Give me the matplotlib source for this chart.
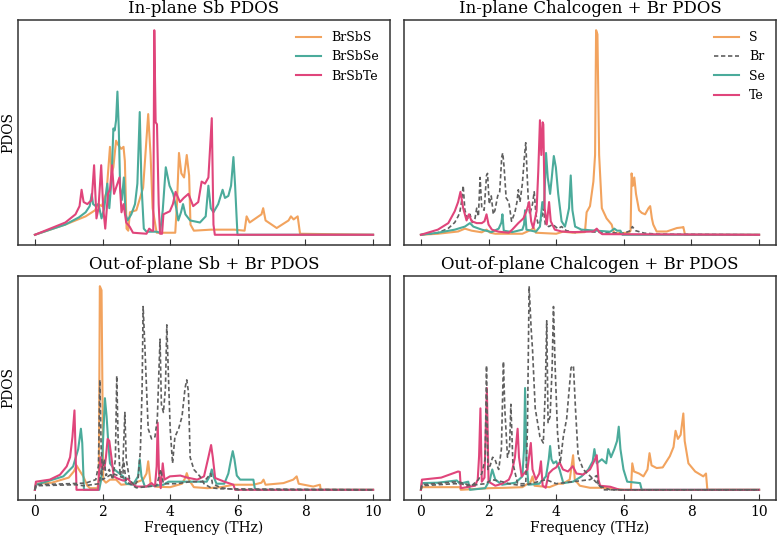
"""Phonon PDOS of BrSbX (X = S, Se, Te): in-plane / out-of-plane projections."""

import matplotlib
matplotlib.use("Agg")
import matplotlib.pyplot as plt

plt.rcParams["font.family"] = ["DejaVu Serif"]

C_S = "#F2A35E"
C_SE = "#4BAB9B"
C_TE = "#E0457B"
C_BR = "#5F5F5F"

# ---- in-plane Sb (normalised to panel max) ----
ip_sb_s_f = [0, 0.9, 1.5, 1.78, 1.87, 1.98, 2.12, 2.22, 2.27, 2.32, 2.40, 2.46, 2.55, 2.62, 2.66,
             2.71, 2.76, 2.81, 3.0, 3.2, 3.35, 3.42, 3.48, 3.6, 4.15, 4.2, 4.26, 4.33, 4.41, 4.49,
             4.56, 4.6, 4.7, 5.2, 5.9, 6.2, 6.26, 6.35, 6.7, 6.75, 6.82, 7.15, 7.5, 7.57, 7.65,
             7.77, 7.84, 10]
ip_sb_s = [0, 0.05, 0.09, 0.12, 0.15, 0.14, 0.21, 0.43, 0.30, 0.33, 0.46, 0.44, 0.42, 0.43, 0.36,
           0.03, 0.02, 0.11, 0.12, 0.23, 0.59, 0.39, 0.13, 0.01, 0.01, 0.15, 0.40, 0.30, 0.28, 0.39,
           0.29, 0.05, 0.02, 0.025, 0.025, 0.02, 0.09, 0.06, 0.10, 0.13, 0.07, 0.033, 0.07, 0.09, 0.075,
           0.09, 0.005, 0]

ip_sb_se_f = [0, 0.9, 1.3, 1.5, 1.62, 1.68, 1.72, 1.8, 1.88, 1.97, 2.05, 2.14, 2.2, 2.27, 2.32,
              2.36, 2.40, 2.44, 2.48, 2.52, 2.57, 2.63, 2.68, 2.74, 2.85, 2.96, 3.03, 3.1, 3.15,
              3.22, 3.3, 3.6, 3.7, 3.78, 3.87, 3.98, 4.09, 4.18, 4.24, 4.32, 4.38, 4.45, 4.59, 4.88,
              5.05, 5.13, 5.2, 5.28, 5.42, 5.55, 5.62, 5.72, 5.8, 5.87, 5.92, 5.96, 5.99, 10]
ip_sb_se = [0, 0.05, 0.085, 0.11, 0.14, 0.20, 0.15, 0.14, 0.15, 0.08, 0.13, 0.25, 0.13, 0.28, 0.52,
            0.51, 0.56, 0.70, 0.52, 0.23, 0.17, 0.28, 0.10, 0.07, 0.10, 0.15, 0.25, 0.60, 0.25,
            0.03, 0.015, 0.015, 0.01, 0.12, 0.33, 0.24, 0.20, 0.13, 0.07, 0.11, 0.15, 0.10, 0.07, 0.06,
            0.09, 0.24, 0.13, 0.11, 0.15, 0.22, 0.18, 0.19, 0.24, 0.38, 0.24, 0.10, 0.0, 0]

ip_sb_te_f = [0, 0.9, 1.2, 1.32, 1.38, 1.44, 1.55, 1.68, 1.75, 1.82, 1.88, 1.96, 2.02, 2.08, 2.16,
              2.22, 2.28, 2.34, 2.42, 2.5, 2.56, 2.62, 2.7, 2.8, 2.9, 3.3, 3.38, 3.45, 3.5, 3.53,
              3.57, 3.61, 3.66, 3.7, 3.76, 3.8, 3.99, 4.08, 4.16, 4.29, 4.4, 4.54, 4.68, 4.83, 4.93,
              5.03, 5.13, 5.23, 5.28, 5.32, 10]
ip_sb_te = [0, 0.06, 0.10, 0.14, 0.22, 0.16, 0.15, 0.17, 0.34, 0.08, 0.13, 0.34, 0.13, 0.03, 0.20,
            0.22, 0.34, 0.20, 0.24, 0.28, 0.11, 0.15, 0.06, 0.04, 0.01, 0.005, 0.03, 0.02, 0.02, 1.0,
            0.55, 0.54, 0.15, 0.005, 0.005, 0.10, 0.115, 0.15, 0.21, 0.16, 0.18, 0.20, 0.14, 0.16, 0.26,
            0.25, 0.28, 0.57, 0.05, 0.0, 0]

# ---- in-plane chalcogen + Br ----
ip_s_f = [0, 0.5, 1.1, 1.3, 1.5, 1.8, 1.94, 2.05, 2.2, 3.0, 3.27, 3.33, 3.4, 4.0, 4.2, 4.5, 4.85,
          4.9, 5.0, 5.1, 5.15, 5.18, 5.22, 5.27, 5.35, 5.49, 5.64, 5.7, 5.74, 6.15, 6.2, 6.23, 6.27,
          6.31, 6.36, 6.45, 6.53, 6.63, 6.73, 6.78, 6.83, 6.87, 6.97, 7.27, 7.57, 7.72, 7.76, 7.81, 10]
ip_s = [0, 0.005, 0.016, 0.03, 0.02, 0.012, 0.025, 0.01, 0.005, 0.005, 0.025, 0.036, 0.01, 0.005,
        0.015, 0.01, 0.013, 0.11, 0.14, 0.26, 0.39, 1.0, 0.98, 0.39, 0.13, 0.08, 0.05, 0.015, 0.007,
        0.01, 0.02, 0.30, 0.24, 0.28, 0.2, 0.12, 0.107, 0.10, 0.13, 0.14, 0.08, 0.05, 0.016, 0.016,
        0.033, 0.036, 0.038, 0.0, 0]

ip_br_f = [0, 0.5, 0.8, 1.0, 1.1, 1.15, 1.2, 1.25, 1.3, 1.38, 1.45, 1.52, 1.6, 1.65, 1.7, 1.75,
           1.8, 1.87, 1.94, 1.97, 2.02, 2.08, 2.14, 2.19, 2.27, 2.33, 2.39, 2.42, 2.46, 2.52, 2.6,
           2.68, 2.78, 2.84, 2.88, 2.93, 3.0, 3.06, 3.1, 3.14, 3.18, 3.22, 3.3, 3.35, 3.4, 3.47,
           3.52, 3.58, 3.62, 3.68, 3.78, 3.9, 4.05, 4.16, 4.3, 4.6, 4.9, 5.0, 5.5, 6.0, 6.2, 6.25,
           6.35, 6.6, 7.0, 10]
ip_br = [0, 0.01, 0.03, 0.06, 0.09, 0.11, 0.16, 0.24, 0.12, 0.08, 0.10, 0.06, 0.08, 0.13, 0.09,
         0.28, 0.13, 0.12, 0.29, 0.30, 0.15, 0.19, 0.10, 0.12, 0.19, 0.21, 0.38, 0.40, 0.33, 0.18,
         0.16, 0.066, 0.11, 0.16, 0.22, 0.16, 0.25, 0.38, 0.45, 0.3, 0.15, 0.10, 0.15, 0.21, 0.10,
         0.05, 0.06, 0.09, 0.13, 0.05, 0.04, 0.05, 0.03, 0.04, 0.02, 0.01, 0.025, 0.015, 0.01, 0.008,
         0.02, 0.04, 0.02, 0.008, 0.003, 0]

ip_se_f = [0, 0.5, 1.0, 1.3, 1.45, 1.55, 1.8, 2.09, 2.3, 2.38, 2.41, 2.45, 2.7, 3.0, 3.05, 3.08,
           3.12, 3.4, 3.52, 3.59, 3.64, 3.7, 3.75, 3.82, 3.87, 3.93, 3.99, 4.06, 4.16, 4.26, 4.31,
           4.38, 4.43, 4.48, 4.56, 4.75, 5.2, 5.6, 5.72, 5.8, 5.9, 5.96, 10]
ip_se = [0, 0.01, 0.025, 0.04, 0.057, 0.04, 0.025, 0.013, 0.03, 0.06, 0.10, 0.02, 0.013, 0.025,
         0.05, 0.12, 0.025, 0.015, 0.04, 0.16, 0.13, 0.40, 0.28, 0.2, 0.28, 0.385, 0.33, 0.2, 0.066,
         0.04, 0.074, 0.13, 0.29, 0.12, 0.04, 0.025, 0.02, 0.015, 0.03, 0.02, 0.02, 0.0, 0]

ip_te_f = [0, 0.5, 0.81, 1.0, 1.1, 1.17, 1.25, 1.35, 1.42, 1.5, 1.65, 1.8, 1.88, 1.94, 2.0, 2.1,
           2.3, 2.6, 2.7, 2.88, 3.03, 3.12, 3.2, 3.26, 3.32, 3.42, 3.47, 3.52, 3.56, 3.6, 3.62,
           3.66, 3.72, 3.79, 3.84, 3.96, 4.16, 4.5, 5.1, 5.2, 5.28, 5.36, 10]
ip_te = [0, 0.025, 0.057, 0.115, 0.16, 0.21, 0.13, 0.07, 0.10, 0.066, 0.057, 0.057, 0.066, 0.10,
         0.05, 0.025, 0.015, 0.01, 0.025, 0.057, 0.08, 0.115, 0.16, 0.066, 0.033, 0.115, 0.31, 0.56,
         0.39, 0.55, 0.54, 0.13, 0.05, 0.16, 0.066, 0.025, 0.016, 0.013, 0.016, 0.03, 0.013, 0.003, 0]

# ---- out-of-plane Sb + Br ----
op_sb_s_f = [0, 0.03, 0.5, 1.0, 1.15, 1.23, 1.3, 1.43, 1.55, 1.63, 1.85, 1.89, 1.92, 1.97, 2.02,
             2.1, 2.22, 2.4, 2.55, 2.9, 3.2, 3.3, 3.35, 3.42, 3.6, 4.0, 4.35, 4.45, 4.49, 4.55, 4.7,
             5.1, 5.5, 5.87, 6.46, 6.7, 6.76, 6.82, 7.35, 7.64, 7.74, 7.8, 8.23, 8.43, 8.45, 10]
op_sb_s = [0, 0.03, 0.035, 0.06, 0.09, 0.12, 0.10, 0.066, 0.02, 0.008, 0.008, 0.05, 1.0, 0.98, 0.05,
           0.035, 0.05, 0.05, 0.025, 0.03, 0.05, 0.08, 0.14, 0.03, 0.015, 0.013, 0.03, 0.06, 0.082,
           0.05, 0.013, 0.008, 0.013, 0.025, 0.025, 0.035, 0.05, 0.025, 0.033, 0.05, 0.066, 0.03,
           0.016, 0.025, 0.0, 0]

op_sb_se_f = [0, 0.03, 0.84, 1.13, 1.28, 1.36, 1.4, 1.45, 1.9, 1.96, 2.02, 2.07, 2.12, 2.17, 2.22,
              2.35, 2.5, 2.61, 2.7, 2.9, 3.05, 3.1, 3.15, 3.25, 3.8, 3.95, 4.39, 5.08, 5.18, 5.23,
              5.28, 5.37, 5.6, 5.72, 5.8, 5.85, 5.9, 5.97, 6.07, 6.46, 6.51, 10]
op_sb_se = [0, 0.025, 0.066, 0.115, 0.2, 0.30, 0.23, 0.0, 0.0, 0.05, 0.26, 0.45, 0.36, 0.23, 0.13,
            0.10, 0.08, 0.066, 0.03, 0.025, 0.066, 0.15, 0.066, 0.016, 0.025, 0.04, 0.04, 0.04, 0.07,
            0.1, 0.066, 0.03, 0.03, 0.08, 0.15, 0.19, 0.15, 0.07, 0.05, 0.05, 0.0, 0]

op_sb_te_f = [0, 0.03, 0.44, 0.74, 0.94, 1.04, 1.11, 1.17, 1.2, 1.23, 1.87, 1.9, 1.94, 1.98, 2.05,
              2.1, 2.15, 2.2, 2.27, 2.33, 2.45, 2.62, 2.75, 2.85, 3.0, 3.3, 3.45, 3.55, 3.6, 3.63,
              3.67, 3.72, 3.78, 3.83, 3.99, 4.3, 4.5, 4.8, 5.0, 5.13, 5.21, 5.26, 5.33, 5.6, 5.87,
              5.92, 10]
op_sb_te = [0, 0.04, 0.05, 0.074, 0.115, 0.16, 0.26, 0.39, 0.2, 0.0, 0.0, 0.09, 0.16, 0.11, 0.10,
            0.16, 0.25, 0.24, 0.15, 0.066, 0.055, 0.045, 0.055, 0.033, 0.016, 0.016, 0.033, 0.016,
            0.115, 0.33, 0.08, 0.008, 0.13, 0.05, 0.066, 0.07, 0.06, 0.05, 0.066, 0.16, 0.22, 0.16,
            0.058, 0.04, 0.025, 0.0, 0]

op_br_a_f = [0, 0.03, 1.0, 1.5, 1.8, 1.88, 1.92, 1.96, 2.0, 2.05, 2.1, 2.2, 2.3, 2.38, 2.42, 2.46,
             2.52, 2.6, 2.66, 2.7, 2.8, 2.95, 3.05, 3.12, 3.17, 3.2, 3.25, 3.3, 3.35, 3.45, 3.55,
             3.62, 3.67, 3.7, 3.74, 3.8, 3.86, 3.9, 3.95, 4.0, 4.07, 4.14, 4.25, 4.35, 4.44, 4.49,
             4.54, 4.59, 4.7, 4.88, 5.0, 5.2, 5.5, 10]
op_br_a = [0, 0.025, 0.03, 0.033, 0.05, 0.12, 0.54, 0.2, 0.1, 0.15, 0.07, 0.1, 0.05, 0.15, 0.56,
           0.25, 0.07, 0.12, 0.38, 0.15, 0.05, 0.02, 0.05, 0.2, 0.5, 0.90, 0.71, 0.5, 0.3, 0.25, 0.26,
           0.35, 0.6, 0.74, 0.42, 0.38, 0.5, 0.81, 0.55, 0.3, 0.13, 0.26, 0.3, 0.36, 0.5, 0.54, 0.48,
           0.16, 0.1, 0.066, 0.03, 0.01, 0.005, 0]

op_br_b_f = [0, 0.03, 1.2, 1.45, 1.9, 1.97, 2.0, 2.3, 2.6, 2.62, 2.7, 3.0, 3.6, 3.72, 3.8, 4.2,
             4.6, 5.0, 5.2, 5.25, 5.5, 6.0, 10]
op_br_b = [0, 0.02, 0.025, 0.02, 0.03, 0.1, 0.05, 0.08, 0.06, 0.14, 0.04, 0.01, 0.02, 0.1, 0.03,
           0.03, 0.04, 0.04, 0.08, 0.03, 0.01, 0.0, 0]

# ---- out-of-plane chalcogen + Br ----
op_s_f = [0, 0.03, 1.15, 1.18, 2.0, 2.5, 3.0, 3.25, 3.3, 3.36, 3.8, 4.06, 4.2, 4.4, 4.5, 4.55,
          4.7, 5.0, 5.4, 6.0, 6.21, 6.25, 6.3, 6.45, 6.58, 6.7, 6.76, 6.82, 6.97, 7.15, 7.36, 7.47,
          7.53, 7.6, 7.68, 7.76, 7.8, 7.91, 8.11, 8.35, 8.43, 8.47, 10]
op_s = [0, 0.013, 0.013, 0.0, 0.008, 0.01, 0.013, 0.04, 0.066, 0.02, 0.013, 0.03, 0.03, 0.05, 0.17,
        0.05, 0.02, 0.01, 0.01, 0.0, 0.0, 0.13, 0.09, 0.08, 0.066, 0.1, 0.18, 0.12, 0.107, 0.11,
        0.165, 0.21, 0.29, 0.25, 0.27, 0.375, 0.24, 0.13, 0.09, 0.066, 0.08, 0.0, 0]

op_se_f = [0, 0.03, 0.5, 1.06, 1.15, 1.4, 1.45, 1.9, 2.04, 2.11, 2.2, 2.4, 2.8, 3.0, 3.05, 3.08,
           3.12, 3.18, 3.5, 3.7, 3.78, 3.82, 3.86, 3.92, 4.0, 4.1, 4.21, 4.5, 4.75, 4.95, 5.08,
           5.13, 5.2, 5.35, 5.48, 5.54, 5.62, 5.72, 5.8, 5.85, 5.9, 5.99, 6.1, 6.48, 6.53, 10]
op_se = [0, 0.033, 0.035, 0.046, 0.03, 0.04, 0.0, 0.008, 0.05, 0.1, 0.05, 0.025, 0.035, 0.066, 0.2,
         0.50, 0.15, 0.025, 0.03, 0.066, 0.15, 0.215, 0.15, 0.13, 0.14, 0.1, 0.033, 0.04, 0.066, 0.1,
         0.14, 0.2, 0.13, 0.15, 0.13, 0.2, 0.16, 0.2, 0.24, 0.31, 0.2, 0.1, 0.04, 0.033, 0.0, 0]

op_te_f = [0, 0.03, 0.6, 1.1, 1.15, 1.18, 1.6, 1.68, 1.72, 1.76, 1.8, 1.88, 1.95, 2.0, 2.2, 2.4,
           2.6, 2.68, 2.78, 2.86, 2.9, 2.98, 3.15, 3.25, 3.3, 3.4, 3.5, 3.55, 3.6, 3.69, 3.78, 3.9,
           4.0, 4.1, 4.2, 4.35, 4.49, 4.6, 4.8, 5.0, 5.12, 5.2, 5.25, 5.3, 5.6, 5.88, 10]
op_te = [0, 0.05, 0.06, 0.09, 0.088, 0.008, 0.02, 0.05, 0.165, 0.40, 0.04, 0.06, 0.50, 0.04, 0.02,
         0.03, 0.05, 0.08, 0.16, 0.30, 0.16, 0.066, 0.1, 0.23, 0.1, 0.05, 0.08, 0.14, 0.02, 0.01,
         0.08, 0.1, 0.11, 0.135, 0.1, 0.09, 0.116, 0.08, 0.075, 0.1, 0.14, 0.17, 0.05, 0.02, 0.015,
         0.0, 0]

op_br2_a_f = [0, 0.03, 1.1, 1.3, 1.5, 1.7, 1.8, 1.9, 1.94, 1.98, 2.05, 2.12, 2.19, 2.25, 2.3, 2.38,
              2.44, 2.48, 2.56, 2.62, 2.66, 2.72, 2.86, 3.1, 3.15, 3.2, 3.26, 3.3, 3.38, 3.52, 3.62,
              3.68, 3.72, 3.76, 3.82, 3.88, 3.92, 3.97, 4.04, 4.12, 4.21, 4.31, 4.44, 4.51, 4.57,
              4.65, 4.8, 5.05, 5.25, 5.4, 10]
op_br2_a = [0, 0.025, 0.04, 0.03, 0.02, 0.05, 0.08, 0.15, 0.61, 0.1, 0.12, 0.16, 0.15, 0.12, 0.1,
            0.2, 0.63, 0.4, 0.16, 0.2, 0.42, 0.13, 0.03, 0.03, 0.3, 1.0, 0.79, 0.69, 0.4, 0.26, 0.23,
            0.5, 0.83, 0.33, 0.36, 0.6, 0.90, 0.6, 0.28, 0.13, 0.26, 0.35, 0.6, 0.61, 0.4, 0.165, 0.1,
            0.06, 0.025, 0.0, 0]

op_br2_b_f = [0, 0.03, 1.0, 1.2, 1.35, 1.9, 2.1, 2.4, 2.6, 3.0, 3.7, 4.0, 4.5, 5.0, 5.2, 5.25,
              5.6, 10]
op_br2_b = [0, 0.02, 0.03, 0.03, 0.02, 0.03, 0.05, 0.04, 0.03, 0.02, 0.05, 0.03, 0.04, 0.05, 0.07,
            0.02, 0.0, 0]

ticks = [0, 2, 4, 6, 8, 10]

fig = plt.figure(figsize=(7.79, 5.37), dpi=100)
W, H = 779, 537
ax_tl = fig.add_axes([18 / W, 1 - 245 / H, 372 / W, 225 / H])
ax_tr = fig.add_axes([404 / W, 1 - 245 / H, 372 / W, 225 / H])
ax_bl = fig.add_axes([18 / W, 1 - 500 / H, 372 / W, 224 / H])
ax_br = fig.add_axes([404 / W, 1 - 500 / H, 372 / W, 224 / H])

lw = 1.5
dash = (0, (2.6, 1.6))
ax_tl.plot(ip_sb_s_f, ip_sb_s, color=C_S, lw=lw, label="BrSbS")
ax_tl.plot(ip_sb_se_f, ip_sb_se, color=C_SE, lw=lw, label="BrSbSe")
ax_tl.plot(ip_sb_te_f, ip_sb_te, color=C_TE, lw=lw, label="BrSbTe")
ax_tl.set_title("In-plane Sb PDOS", fontsize=12, pad=5)
ax_tl.legend(loc="upper right", frameon=False, fontsize=9)

ax_tr.plot(ip_s_f, ip_s, color=C_S, lw=lw, label="S")
ax_tr.plot(ip_br_f, ip_br, color=C_BR, lw=1.2, ls=dash, label="Br")
ax_tr.plot(ip_se_f, ip_se, color=C_SE, lw=lw, label="Se")
ax_tr.plot(ip_te_f, ip_te, color=C_TE, lw=lw, label="Te")
ax_tr.set_title("In-plane Chalcogen + Br PDOS", fontsize=12, pad=5)
ax_tr.legend(loc="upper right", frameon=False, fontsize=9)

ax_bl.plot(op_sb_s_f, op_sb_s, color=C_S, lw=lw)
ax_bl.plot(op_sb_se_f, op_sb_se, color=C_SE, lw=lw)
ax_bl.plot(op_sb_te_f, op_sb_te, color=C_TE, lw=lw)
ax_bl.plot(op_br_b_f, op_br_b, color=C_BR, lw=1.2, ls=dash)
ax_bl.plot(op_br_a_f, op_br_a, color=C_BR, lw=1.2, ls=dash)
ax_bl.set_title("Out-of-plane Sb + Br PDOS", fontsize=12, pad=5)

ax_br.plot(op_s_f, op_s, color=C_S, lw=lw)
ax_br.plot(op_se_f, op_se, color=C_SE, lw=lw)
ax_br.plot(op_te_f, op_te, color=C_TE, lw=lw)
ax_br.plot(op_br2_b_f, op_br2_b, color=C_BR, lw=1.2, ls=dash)
ax_br.plot(op_br2_a_f, op_br2_a, color=C_BR, lw=1.2, ls=dash)
ax_br.set_title("Out-of-plane Chalcogen + Br PDOS", fontsize=12, pad=5)

for ax in (ax_tl, ax_tr, ax_bl, ax_br):
    ax.set_xticks(ticks)
    ax.set_yticks([])
    ax.tick_params(axis="x", direction="in", length=4, color="#333333", labelsize=10)
    for sp in ax.spines.values():
        sp.set_color("#333333")
        sp.set_linewidth(1.1)
for ax in (ax_tl, ax_tr):
    ax.tick_params(axis="x", labelbottom=False)
for ax in (ax_bl, ax_br):
    ax.set_xlabel("Frequency (THz)", fontsize=10, labelpad=1)
for ax in (ax_tl, ax_bl):
    ax.set_ylabel("PDOS", fontsize=10, labelpad=2)

fig.savefig("out.png", dpi=100)
